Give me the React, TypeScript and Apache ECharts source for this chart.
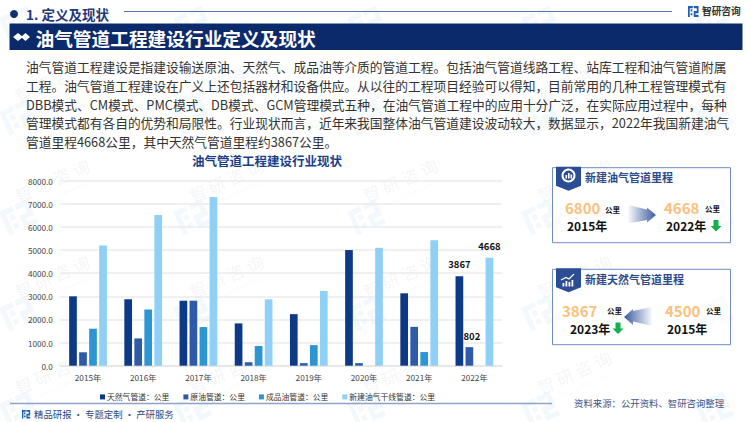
import React, { useEffect, useRef } from "react";
import * as echarts from "echarts";

const years = ["2015年", "2016年", "2017年", "2018年", "2019年", "2020年", "2021年", "2022年"];
const gasPipe = [3000, 2870, 2810, 1830, 2230, 5000, 3130, 3867];
const oilPipe = [580, 1180, 2810, 150, 110, 110, 1680, 802];
const productPipe = [1600, 2430, 1670, 850, 890, 0, 590, 0];
const trunkPipe = [5200, 6520, 7300, 2870, 3230, 5100, 5420, 4668];
const seriesNames = ["天然气管道：公里", "原油管道：公里", "成品油管道：公里", "新建油气干线管道：公里"];
const barColors = ["#0d3a87", "#2e5aa8", "#2e95d3", "#90d0f7"];

const bodyLines = [
  "油气管道工程建设是指建设输送原油、天然气、成品油等介质的管道工程。包括油气管道线路工程、站库工程和油气管道附属",
  "工程。油气管道工程建设在广义上还包括器材和设备供应。从以往的工程项目经验可以得知，目前常用的几种工程管理模式有",
  "DBB模式、CM模式、PMC模式、DB模式、GCM管理模式五种，在油气管道工程中的应用十分广泛，在实际应用过程中，每种",
  "管理模式都有各自的优势和局限性。行业现状而言，近年来我国整体油气管道建设波动较大，数据显示，2022年我国新建油气",
  "管道里程4668公里，其中天然气管道里程约3867公里。",
];

const FONT = "'Noto Sans CJK SC', 'Noto Sans', sans-serif";
const LOGO_PATH = "M0 0H11V4H4V20H0Z M6 6H10V10H6Z M6 13H10V17H6Z M13 0H24V13H17V16H24V20H13V9H20V4H13Z";
echarts.graphic.registerShape("zyLogo", echarts.graphic.extendPath(LOGO_PATH, {}) as any);

const txt = (x: number, y: number, text: string, size: number, fill: string, weight: any = "normal", align: any = "left", extra: any = {}) => ({
  type: "text", x, y, z: 5,
  style: { text, fill, fontSize: size, fontWeight: weight, fontFamily: FONT, textAlign: align, textVerticalAlign: "middle", ...extra },
});

function watermarks() {
  const out: any[] = [];
  const xs = [17, 191, 365, 539, 713];
  const ys = [12, 106, 206, 302, 398];
  const c = "rgba(40,130,200,0.06)";
  const tc = "rgba(90,120,150,0.085)";
  ys.forEach((y) => xs.forEach((x) => {
    out.push({ type: "zyLogo", x: x - 18, y: y + 6, rotation: 0.42, scaleX: 1.3, scaleY: 1.3, z: -2, style: { fill: c }, silent: true });
    const cx = x + 35;
    const cy = y - 26;
    if (cx + 44 <= 750 && cy - 24 >= 0 && cy + 30 <= 422) {
      out.push({ type: "text", x: cx, y: cy, rotation: 0.42, z: -2, silent: true, style: { text: "智 研 咨 询", fill: tc, fontSize: 17, fontFamily: FONT, textAlign: "center", textVerticalAlign: "middle" } });
      out.push({ type: "text", x: cx + 5, y: cy + 16, rotation: 0.42, z: -2, silent: true, style: { text: "INTELLIGENCE RESEARCH GROUP", fill: tc, fontSize: 4.5, fontFamily: FONT, textAlign: "center", textVerticalAlign: "middle" } });
    }
  }));
  return out;
}

const arrowFill = (leftToRight: boolean) => ({
  type: "linear", x: 0, y: 0, x2: 1, y2: 0,
  colorStops: leftToRight
    ? [{ offset: 0, color: "rgba(60,90,160,0.03)" }, { offset: 1, color: "#3a5a9e" }]
    : [{ offset: 0, color: "#3a5a9e" }, { offset: 1, color: "rgba(60,90,160,0.03)" }],
});

function card(top: number, title: string, bottom: number) {
  return [
    { type: "rect", z: 3, shape: { x: 552.5, y: top, width: 178, height: bottom - top }, style: { fill: "rgba(255,255,255,0.6)", stroke: "#6f8dc4", lineWidth: 1 } },
    { type: "polygon", z: 4, shape: { points: [[556, top - 1], [581, top - 1], [581, top + 18], [568.5, top + 23], [556, top + 18]] }, style: { fill: "#2b4d94" } },
    txt(585, top + 9.7, title, 11, "#2d4a8a", "bold"),
  ];
}
const downArrow = (cx: number, top: number) => ({
  type: "polygon", z: 5,
  shape: { points: [[cx - 2.5, top], [cx + 2.5, top], [cx + 2.5, top + 6], [cx + 5.5, top + 6], [cx, top + 11.5], [cx - 5.5, top + 6], [cx - 2.5, top + 6]] },
  style: { fill: "#14b04c" },
});

function decorations() {
  const orange = "#fbc07e";
  const numSize = 15;
  const yearSize = 12;
  return [
    ...watermarks(),
    { type: "circle", z: 5, shape: { cx: 14, cy: 14, r: 4 }, style: { fill: "#15306e" } },
    txt(26, 14, "1. 定义及现状", 13.5, "#1f3a7a", "bold"),
    { type: "line", z: 5, shape: { x1: 124, y1: 11.5, x2: 672, y2: 11.5 }, style: { stroke: "#5a74b0", lineWidth: 1 } },
    { type: "zyLogo", x: 688, y: 6, scaleX: 0.44, scaleY: 0.55, z: 5, style: { fill: "#1f5fb0" } },
    txt(702, 11, "智研咨询", 9.7, "#333", "bold"),
    { type: "rect", z: 5, shape: { x: 9.5, y: 23.5, width: 733, height: 26.5 }, style: { fill: "#0b2a6b" } },
    { type: "polygon", z: 6, shape: { points: [[13, 37], [18, 33], [23, 37], [18, 41]] }, style: { fill: "#fff" } },
    { type: "polygon", z: 6, shape: { points: [[21, 37], [25.5, 33], [30, 37], [25.5, 41]] }, style: { fill: "#fff" } },
    txt(35.5, 37.5, "油气管道工程建设行业定义及现状", 18.7, "#fff", "bold"),
    ...bodyLines.map((l, i) => txt(26, 66.7 + i * 18.65, l, 12.74, "#333")),
    { type: "line", z: 5, shape: { x1: 10, y1: 403.5, x2: 552, y2: 403.5 }, style: { stroke: "#8fa2c8", lineWidth: 1.6 } },
    { type: "zyLogo", x: 22, y: 410, scaleX: 0.34, scaleY: 0.42, z: 5, style: { fill: "#1f5fb0" } },
    txt(34, 414, "精品研报 · 专题定制 · 产研服务", 9.4, "#2d4a7e"),
    txt(574, 403, "资料来源：公开资料、智研咨询整理", 9.4, "#3c5488"),

    ...card(167.7, "新建油气管道里程", 242.7),
    { type: "circle", z: 6, shape: { cx: 568.5, cy: 175.5, r: 6 }, style: { fill: "none", stroke: "#fff", lineWidth: 2 } },
    { type: "rect", z: 6, shape: { x: 565.5, y: 175, width: 1.6, height: 3.5 }, style: { fill: "#fff" } },
    { type: "rect", z: 6, shape: { x: 568, y: 173, width: 1.6, height: 5.5 }, style: { fill: "#fff" } },
    { type: "rect", z: 6, shape: { x: 570.5, y: 174.5, width: 1.6, height: 4 }, style: { fill: "#fff" } },
    txt(565, 207, "6800", numSize, orange, "bold"),
    txt(605, 209, "公里", 7.5, "#111", "bold"),
    txt(567, 225, "2015年", yearSize, "#111", "bold"),
    { type: "polygon", z: 5, shape: { points: [[628, 205], [647, 209.5], [647, 207.5], [656, 215], [647, 222.5], [647, 220], [628, 223.5]] }, style: { fill: arrowFill(true) } },
    txt(664, 207, "4668", numSize, orange, "bold"),
    txt(705, 208.5, "公里", 7.5, "#111", "bold"),
    txt(666, 225, "2022年", yearSize, "#111", "bold"),
    downArrow(716, 220),

    ...card(269.3, "新建天然气管道里程", 344.7),
    { type: "rect", z: 6, shape: { x: 562.5, y: 283, width: 1.8, height: 3.5 }, style: { fill: "#fff" } },
    { type: "rect", z: 6, shape: { x: 565.5, y: 281, width: 1.8, height: 5.5 }, style: { fill: "#fff" } },
    { type: "rect", z: 6, shape: { x: 568.5, y: 282, width: 1.8, height: 4.5 }, style: { fill: "#fff" } },
    { type: "rect", z: 6, shape: { x: 571.5, y: 280, width: 1.8, height: 6.5 }, style: { fill: "#fff" } },
    { type: "polyline", z: 6, shape: { points: [[561, 280], [566, 277.5], [569, 279], [574, 274]] }, style: { fill: "none", stroke: "#fff", lineWidth: 1.2 } },
    txt(562, 310, "3867", numSize, orange, "bold"),
    txt(607, 310.5, "公里", 7.5, "#111", "bold"),
    txt(570, 328, "2023年", yearSize, "#111", "bold"),
    downArrow(618, 322.5),
    { type: "polygon", z: 5, shape: { points: [[624, 317], [633, 309], [633, 311], [652, 307], [652, 326], [633, 321.5], [633, 325]] }, style: { fill: arrowFill(false) } },
    txt(665, 310, "4500", numSize, orange, "bold"),
    txt(706, 310.5, "公里", 7.5, "#111", "bold"),
    txt(667, 328, "2015年", yearSize, "#111", "bold"),
  ];
}

function lastLabelled(values: number[], distance: number, dx = 0) {
  return values.map((v, i) => (i === values.length - 1
    ? { value: v, label: { show: true, position: "top", distance, offset: [dx, 0], color: "#111", fontSize: 9.5, fontWeight: "bold", fontFamily: FONT } }
    : v));
}

export default function App() {
  const ref = useRef<HTMLDivElement>(null);
  useEffect(() => {
    const chart = echarts.init(ref.current!, undefined, { renderer: "svg" });
    const data = [lastLabelled(gasPipe, 7.5), lastLabelled(oilPipe, 6, 2.5), productPipe, lastLabelled(trunkPipe, 7)];
    chart.setOption({
      animation: false,
      backgroundColor: "#fff",
      textStyle: { fontFamily: FONT },
      title: { text: "油气管道工程建设行业现状", left: 187, top: 149, textStyle: { fontSize: 12.5, fontWeight: "bold", color: "#1a3f8a", fontFamily: FONT } },
      legend: {
        left: 95, top: 388, icon: "rect", itemWidth: 5, itemHeight: 5, itemGap: 14,
        textStyle: { fontSize: 7.8, color: "#333", padding: [0, 0, 0, -3], fontFamily: FONT },
        data: seriesNames,
      },
      grid: { left: 60.4, right: 248, top: 180.7, bottom: 56.3, containLabel: false },
      xAxis: {
        type: "category", data: years,
        axisLine: { lineStyle: { color: "#e4e4e4", width: 1.5 } },
        axisTick: { show: false },
        axisLabel: { color: "#444", fontSize: 8.2, margin: 7.5, fontFamily: FONT },
      },
      yAxis: {
        type: "value", min: 0, max: 8000, interval: 1000,
        axisLine: { show: false }, axisTick: { show: false },
        splitLine: { lineStyle: { color: "#ebebeb", width: 1.5 } },
        axisLabel: { color: "#444", fontSize: 8.2, margin: 7.5, padding: [0, 0, 2, 0], formatter: (v: number) => v.toFixed(1), fontFamily: FONT },
      },
      series: seriesNames.map((name, i) => ({
        name, type: "bar", data: data[i], barWidth: 7.7, barGap: "30%",
        itemStyle: { color: barColors[i] },
      })),
      graphic: { elements: decorations() },
    });
    return () => chart.dispose();
  }, []);
  return <div ref={ref} style={{ position: "absolute", left: 0, top: 0, width: 750, height: 422 }} />;
}
